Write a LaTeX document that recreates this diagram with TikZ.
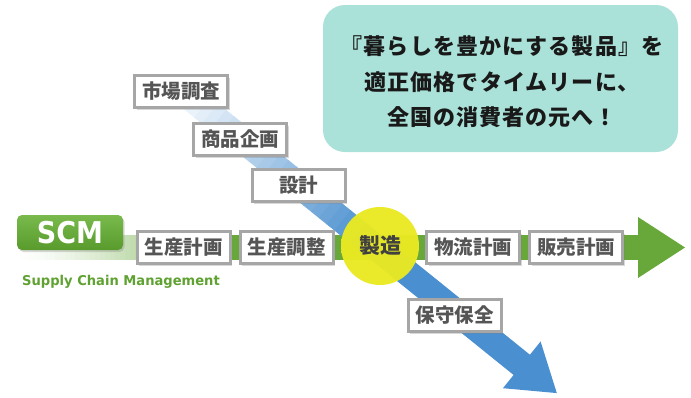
\documentclass[tikz,border=0pt]{standalone}
\usepackage{fontspec}
\newfontfamily\jp{Noto Sans CJK JP}
\newfontfamily\dv{DejaVu Sans}
\usetikzlibrary{shadows}
\definecolor{arrowblue}{RGB}{74,143,207}
\definecolor{arrowgreen}{RGB}{104,168,58}
\definecolor{scmtop}{RGB}{122,186,76}
\definecolor{scmbot}{RGB}{88,154,44}
\definecolor{scmtext}{RGB}{96,162,50}
\definecolor{boxborder}{RGB}{166,166,166}
\definecolor{boxtext}{RGB}{85,85,85}
\definecolor{msgteal}{RGB}{170,226,217}
\definecolor{yelA}{RGB}{234,234,34}
\definecolor{yelB}{RGB}{255,255,30}
\tikzset{
  stagebox/.style={draw=boxborder, line width=3pt, fill=white,
    minimum width=93pt, minimum height=32pt, inner sep=0pt,
    font=\jp\bfseries\fontsize{19.5}{19.5}\selectfont, text=boxtext,
    drop shadow={shadow xshift=2pt, shadow yshift=-2pt, opacity=0.3}},
  scmbox/.style={rounded corners=5pt, top color=scmtop, bottom color=scmbot,
    minimum width=106pt, minimum height=35pt, inner sep=0pt, text=white,
    font=\dv\bfseries\fontsize{30}{30}\selectfont,
    drop shadow={shadow xshift=1.5pt, shadow yshift=-2pt, opacity=0.3}},
  hubcircle/.style={circle, minimum size=78pt, inner sep=0pt,
    top color=yelA, middle color=yelB, bottom color=yelA, fill opacity=0.96,
    text opacity=1, text=black!75, font=\jp\bfseries\fontsize{21}{21}\selectfont},
  msgbox/.style={rounded corners=22pt, fill=msgteal, minimum width=355pt,
    minimum height=147pt, inner sep=0pt},
  msgtext/.style={align=center, text=black!90,
    font=\jp\bfseries\fontsize{22}{35.5}\selectfont\addfontfeature{LetterSpace=5}},
}
\begin{document}
\begin{tikzpicture}[x=1pt,y=-1pt]
\useasboundingbox (0,0) rectangle (691,397);
\fill[white] (0,0) rectangle (691,397);
% green arrow
\foreach \i in {0,...,42} {
  \pgfmathsetmacro\gt{(\i*5+2.5)/215}
  \pgfmathsetmacro\p{100*\gt*sqrt(\gt)}
  \fill[arrowgreen!\p!white] (15+\i*5-0.3,235) rectangle (15+\i*5+5.3,260);
}
\fill[arrowgreen] (230,235) rectangle (639,260);
\fill[arrowgreen] (638,217) -- (685,247.5) -- (638,278) -- cycle;
% blue arrow
\begin{scope}[shift={(187,95)}, rotate=-38.87]
\foreach \i in {0,...,22} {
  \pgfmathsetmacro\p{5+(\i*10+5)*0.41304}
  \fill[arrowblue!\p!white] (\i*10-0.3,-13) rectangle (\i*10+10.3,13);
}
\fill[arrowblue] (230,-13) rectangle (431,13);
\fill[arrowblue] (430,-30) -- (475,0) -- (430,30) -- cycle;
\end{scope}
% SCM
\node[scmbox] (scm) at (70,232.5) {\scalebox{0.9}[1]{SCM}};
\node[text=scmtext, font=\dv\bfseries\fontsize{13.5}{13.5}\selectfont, inner sep=0pt] (scmlabel) at (121,281.5) {\scalebox{0.97}[1]{Supply Chain Management}};
% stages
\node[stagebox] (mr) at (181,91.5) {市場調査};
\node[stagebox] (pp) at (240,139.5) {商品企画};
\node[stagebox] (ds) at (298.5,185.5) {設計};
\node[stagebox] (prp) at (183.5,247.5) {生産計画};
\node[stagebox] (pra) at (286.5,247.5) {生産調整};
\node[stagebox] (lp) at (473,247.5) {物流計画};
\node[stagebox] (sp) at (576,247.5) {販売計画};
\node[stagebox] (mt) at (454.5,315.5) {保守保全};
\node[hubcircle] (mfg) at (380,246) {製造};
% message
\node[msgbox] (msg) at (500.5,78.5) {};
\node[msgtext] (msgt) at (502,82) {『暮らしを豊かにする製品』を\\適正価格でタイムリーに、\\全国の消費者の元へ！};
\end{tikzpicture}
\end{document}
